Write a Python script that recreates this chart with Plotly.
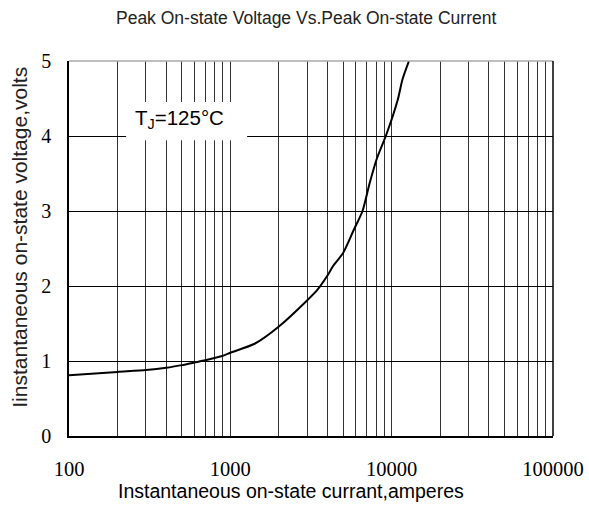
import plotly.graph_objects as go

current = [100, 200, 300, 400, 500, 600, 700, 900, 1000, 1415, 2000, 3000, 3480,
           4000, 4315, 5000, 5800, 6600, 7300, 8100, 9270, 10900, 11650, 12800]
voltage = [0.81, 0.855, 0.88, 0.91, 0.945, 0.98, 1.01, 1.07, 1.11, 1.23, 1.46, 1.81,
           1.955, 2.14, 2.26, 2.44, 2.74, 3.0, 3.37, 3.7, 4.02, 4.48, 4.75, 5.0]

x_ticks = [100, 1000, 10000, 100000]
y_ticks = [0, 1, 2, 3, 4, 5]

title_text = "Peak On-state Voltage Vs.Peak On-state Current"
x_title = "Instantaneous on-state currant,amperes"
y_title = "Iinstantaneous on-state voltage,volts"
note = "T<sub>J</sub>=125°C"

fig = go.Figure()
fig.add_trace(go.Scatter(x=current, y=voltage, mode="lines",
                         line=dict(color="black", width=2, shape="spline", smoothing=0.6),
                         hoverinfo="skip", showlegend=False))

fig.update_layout(
    width=589, height=507,
    margin=dict(l=69, r=36, t=61, b=71),
    paper_bgcolor="white", plot_bgcolor="white",
    title=dict(text=title_text, xref="paper", x=0.49, xanchor="center", y=0.965, yanchor="middle",
               font=dict(family="Liberation Sans, Arial", size=17.5, color="#222")),
    xaxis=dict(type="log", range=[2, 5], automargin=False, tickangle=0,
               tickvals=x_ticks, ticktext=[str(v) for v in x_ticks],
               showgrid=True, gridcolor="#333", gridwidth=1,
               minor=dict(dtick="D1", showgrid=True, gridcolor="#333", gridwidth=1, ticks=""),
               showline=True, linecolor="black", linewidth=1.5,
               ticks="", ticklabelstandoff=14, ticklabeloverflow="allow",
               tickfont=dict(family="Liberation Serif, Times New Roman", size=20.5, color="black"),
               zeroline=False),
    yaxis=dict(range=[0, 5], tickvals=y_ticks, automargin=False,
               showgrid=True, gridcolor="black", gridwidth=1,
               showline=True, linecolor="black", linewidth=1.5,
               ticks="", ticklabelstandoff=12,
               tickfont=dict(family="Liberation Serif, Times New Roman", size=20, color="black"),
               zeroline=False),
)

fig.add_shape(type="line", xref="paper", yref="paper", x0=0, x1=1, y0=1, y1=1,
              line=dict(color="#aaa", width=1.5))
fig.add_shape(type="line", xref="paper", yref="paper", x0=1, x1=1, y0=0, y1=1,
              line=dict(color="black", width=1.5))
# white box behind the temperature note
fig.add_shape(type="rect", xref="paper", yref="paper", x0=0.118, x1=0.368, y0=0.789, y1=0.891,
              fillcolor="white", line=dict(width=0), layer="above")

fig.add_annotation(x=0.132, y=0.845, xref="paper", yref="paper", text=note, showarrow=False,
                   xanchor="left", yanchor="middle",
                   font=dict(family="Liberation Sans, Arial", size=20.5, color="black"))

# axis titles as annotations for exact placement
fig.add_annotation(x=0.459, y=-0.147, xref="paper", yref="paper", text=x_title, showarrow=False,
                   xanchor="center", yanchor="middle",
                   font=dict(family="Liberation Sans, Arial", size=19.5, color="black"))
fig.add_annotation(x=-0.101, y=0.069, xref="paper", yref="paper", text=y_title, showarrow=False,
                   textangle=-90, xanchor="center", yanchor="bottom",
                   font=dict(family="Liberation Sans, Arial", size=21, color="#222"))

fig.write_html("out.html", config={"displayModeBar": False},
               post_script="document.body.style.margin='0';")
